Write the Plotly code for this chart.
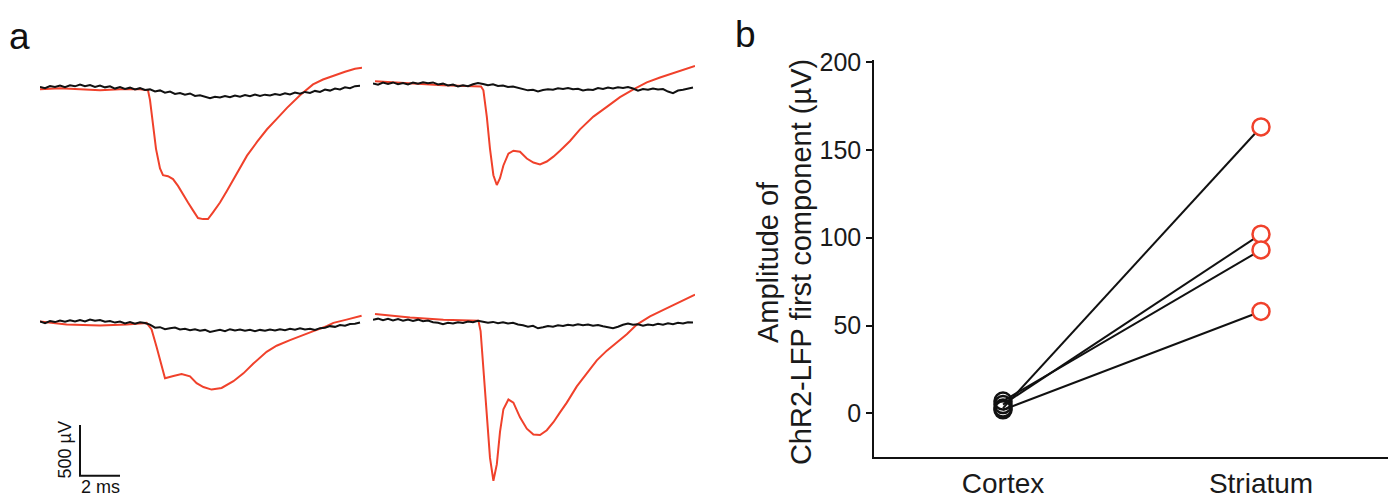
import plotly.graph_objects as go

W, H = 1396, 502
RED = "#f0412b"
BLK = "#111111"
FONT = "Liberation Sans, Arial, sans-serif"

# ---------------- Panel a data (time in ms, voltage in µV, relative to baseline) -------------
# top-left
tl_red_t = [0, 1.0, 2.0, 3.0, 4.0, 5.0, 5.4, 5.5, 5.65, 5.8, 6.0, 6.15, 6.4, 6.65, 6.9, 7.15, 7.4,
            7.65, 7.9, 8.15, 8.4, 8.65, 9.0, 9.35, 9.65, 10.0, 10.35, 10.85, 11.35, 11.85, 12.35,
            13.0, 13.65, 14.15, 14.65, 15.25, 15.75, 16.1]
tl_red_v = [-19, -10, -19, -29, -19, -19, -29, -125, -365, -606, -798, -865, -875, -904, -971, -1058,
            -1135, -1212, -1288, -1298, -1298, -1231, -1135, -1019, -913, -798, -673, -538, -413,
            -308, -202, -77, 29, 77, 115, 154, 183, 192]
tl_blk_v = [5, -8, 12, 3, 18, 2, 20, 10, 28, 12, 22, 5, 18, 0, 10, -12, 2, -15, -3, -20, -8, -25,
            -20, -40, -30, -52, -42, -65, -55, -72, -60, -85, -78, -95, -108, -92, -100, -85, -98,
            -80, -92, -75, -88, -70, -85, -72, -80, -65, -75, -58, -70, -52, -62, -45, -55, -35,
            -45, -22, -32, -12, -20, 0, -8, 12, 15]

# top-right
tr_red_t = [0.1, 1.85, 3.5, 5.4, 5.52, 5.69, 5.85, 6.02, 6.19, 6.35, 6.52, 6.77, 7.02, 7.35, 7.69,
            8.02, 8.35, 8.69, 9.02, 9.35, 9.85, 10.35, 11.02, 11.69, 12.35, 13.02, 13.69, 14.35,
            15.19, 16.1]
tr_red_v = [22, 3, -19, -29, -67, -327, -644, -904, -1000, -933, -808, -692, -663, -673, -740,
            -779, -798, -769, -721, -663, -567, -452, -327, -231, -135, -58, 10, 58, 115, 173]
tr_blk_v = [0, -12, 8, -5, 10, -8, 5, -10, 8, -3, 12, 2, 10, -10, -2, -20, -10, -30, -18, -28, -8,
            5, -5, -18, -8, -25, -20, -35, -30, -45, -55, -68, -62, -78, -65, -58, -62, -48, -55,
            -45, -58, -52, -70, -60, -65, -45, -55, -40, -50, -38, -45, -35, -50, -72, -55, -62,
            -50, -60, -55, -80, -95, -70, -62, -50, -40]

# bottom-left
bl_red_t = [0, 1.33, 3.0, 4.33, 5.33, 5.58, 5.83, 6.08, 6.25, 6.67, 7.08, 7.5, 7.83, 8.17, 8.58,
            9.08, 9.67, 10.17, 10.67, 11.33, 11.83, 12.5, 13.0, 13.67, 14.33, 14.67, 15.33, 16.08]
bl_red_v = [12, -19, -29, -19, -3, -67, -240, -433, -548, -526, -507, -529, -596, -635, -660,
            -644, -577, -500, -404, -288, -228, -173, -132, -84, -36, -3, 29, 67]
bl_blk_v = [10, -5, 15, 5, 20, 8, 22, 10, 25, 12, 30, 18, 25, 8, 15, 0, 10, -8, 5, -10, 2, -5,
            -20, -50, -45, -65, -55, -48, -68, -60, -75, -65, -80, -72, -92, -80, -70, -85, -65,
            -78, -68, -80, -70, -85, -72, -80, -68, -78, -65, -75, -60, -70, -55, -68, -60, -72,
            -55, -50, -35, -42, -25, -30, -15, -12, 0]

# bottom-right
br_red_t = [0.1, 1.85, 3.52, 5.27, 5.38, 5.52, 5.69, 5.85, 6.02, 6.19, 6.35, 6.52, 6.77, 7.02,
            7.35, 7.69, 8.02, 8.35, 8.69, 9.02, 9.35, 9.69, 10.19, 10.69, 11.19, 11.69, 12.19,
            12.69, 13.19, 13.85, 14.52, 15.19, 16.1]
br_red_v = [55, 22, 0, -10, -112, -497, -978, -1362, -1587, -1426, -1106, -882, -786, -817, -962,
            -1074, -1132, -1137, -1089, -1010, -913, -817, -657, -529, -401, -305, -224, -144,
            -48, 32, 96, 161, 247]
br_blk_v = [0, 10, -5, 8, -8, 5, -10, 2, -12, 0, -15, -8, -25, -30, -45, -30, -38, -25, -32, -18,
            -25, -12, -20, -30, -22, -35, -25, -38, -30, -48, -55, -70, -60, -85, -75, -62, -70,
            -55, -62, -50, -58, -45, -55, -48, -60, -52, -65, -75, -85, -70, -50, -38, -50, -45,
            -60, -48, -55, -40, -50, -35, -45, -30, -38, -25, -28]

SAMPLE_MS = 0.25
blk_t = [i * SAMPLE_MS for i in range(len(tl_blk_v))]

# scale bar
SCALE_T_MS = 2
SCALE_V_UV = 500
SCALE_T0 = 2.0
SCALE_V0 = -1510

# ---------------- Panel b data ----------------
regions = ["Cortex", "Striatum"]
cortex_uv = [3, 5, 7, 2]
striatum_uv = [163, 102, 93, 58]

# ---------------- layout helpers ----------------
OFF = 8  # page body margin


def fx(px):
    return (px - OFF) / W


def fy(py):
    return 1 - (py - OFF) / H


UV_PER_PX = 500 / 52.0
sub = [  # (x left px, baseline px, data)
    (40, 77, tl_red_t, tl_red_v, tl_blk_v),
    (373, 73, tr_red_t, tr_red_v, tr_blk_v),
    (40, 318, bl_red_t, bl_red_v, bl_blk_v),
    (373, 315, br_red_t, br_red_v, br_blk_v),
]

fig = go.Figure()
layout = dict(
    width=W, height=H, margin=dict(l=0, r=0, t=0, b=0),
    paper_bgcolor="white", plot_bgcolor="white", showlegend=False,
    font=dict(family=FONT, color="#1a1a1a"),
)

for i, (x0, base, rt, rv, bv) in enumerate(sub, start=1):
    xa = "x" if i == 1 else f"x{i}"
    ya = "y" if i == 1 else f"y{i}"
    layout["xaxis" if i == 1 else f"xaxis{i}"] = dict(
        domain=[fx(x0), fx(x0 + 322)], range=[0, 16.1], visible=False, anchor=ya)
    layout["yaxis" if i == 1 else f"yaxis{i}"] = dict(
        domain=[fy(base + 180), fy(base - 50)], range=[-180 * UV_PER_PX, 50 * UV_PER_PX],
        visible=False, anchor=xa)
    fig.add_trace(go.Scatter(x=rt, y=rv, mode="lines", xaxis=xa, yaxis=ya,
                             line=dict(color=RED, width=2), hoverinfo="skip"))
    fig.add_trace(go.Scatter(x=blk_t, y=bv, mode="lines", xaxis=xa, yaxis=ya,
                             line=dict(color=BLK, width=2), hoverinfo="skip"))

# scale bar in bottom-left axes
fig.add_trace(go.Scatter(
    x=[SCALE_T0, SCALE_T0, SCALE_T0 + SCALE_T_MS],
    y=[SCALE_V0 + SCALE_V_UV, SCALE_V0, SCALE_V0],
    mode="lines", xaxis="x3", yaxis="y3", line=dict(color=BLK, width=2), hoverinfo="skip"))

annotations = [
    dict(xref="x3", yref="y3", x=SCALE_T0, y=SCALE_V0 + SCALE_V_UV / 2,
         text=f"{SCALE_V_UV} µV", textangle=-90, showarrow=False,
         xanchor="right", yanchor="middle", xshift=-3, font=dict(size=18, color="#111")),
    dict(xref="x3", yref="y3", x=SCALE_T0 + SCALE_T_MS / 2, y=SCALE_V0,
         text=f"{SCALE_T_MS} ms", showarrow=False,
         xanchor="center", yanchor="top", yshift=1, font=dict(size=18, color="#111")),
    dict(xref="paper", yref="paper", x=fx(7), y=fy(2), text="a", showarrow=False,
         xanchor="left", yanchor="top", font=dict(size=37, color="#111")),
    dict(xref="paper", yref="paper", x=fx(733), y=fy(0), text="b", showarrow=False,
         xanchor="left", yanchor="top", font=dict(size=37, color="#111")),
    dict(xref="paper", yref="paper", x=fx(768), y=fy(256), text="Amplitude of",
         textangle=-90, showarrow=False, xanchor="center", yanchor="middle",
         font=dict(size=29, color="#1a1a1a")),
    dict(xref="paper", yref="paper", x=fx(801), y=fy(256),
         text="ChR2-LFP first component (µV)",
         textangle=-90, showarrow=False, xanchor="center", yanchor="middle",
         font=dict(size=29, color="#1a1a1a")),
]

# ---------------- Panel b ----------------
layout["xaxis5"] = dict(
    domain=[fx(874), fx(1390)], range=[0.5, 2.5], anchor="y5",
    tickvals=[1, 2], ticktext=regions, ticks="",
    showline=True, linecolor=BLK, linewidth=1.5,
    showgrid=False, zeroline=False, tickfont=dict(size=28, color="#1a1a1a"))
layout["yaxis5"] = dict(
    domain=[fy(456), fy(49.2)], range=[-25, 201], anchor="x5",
    tickvals=[0, 50, 100, 150, 200], ticks="outside", ticklen=6, tickwidth=1.5,
    tickcolor=BLK, showline=True, linecolor=BLK, linewidth=1.5,
    showgrid=False, zeroline=False, tickfont=dict(size=25, color="#1a1a1a"))

for c, s in zip(cortex_uv, striatum_uv):
    fig.add_trace(go.Scatter(x=[1, 2], y=[c, s], mode="lines", xaxis="x5", yaxis="y5",
                             line=dict(color=BLK, width=2), hoverinfo="skip"))
fig.add_trace(go.Scatter(x=[1] * len(cortex_uv), y=cortex_uv, mode="markers",
                         xaxis="x5", yaxis="y5",
                         marker=dict(symbol="circle-open", size=17, color=BLK,
                                     line=dict(color=BLK, width=2.5)), hoverinfo="skip"))
fig.add_trace(go.Scatter(x=[2] * len(striatum_uv), y=striatum_uv, mode="markers",
                         xaxis="x5", yaxis="y5",
                         marker=dict(symbol="circle", size=17, color="white",
                                     line=dict(color=RED, width=2.5)), hoverinfo="skip"))

layout["annotations"] = annotations
fig.update_layout(**layout)
fig.write_html("out.html")
